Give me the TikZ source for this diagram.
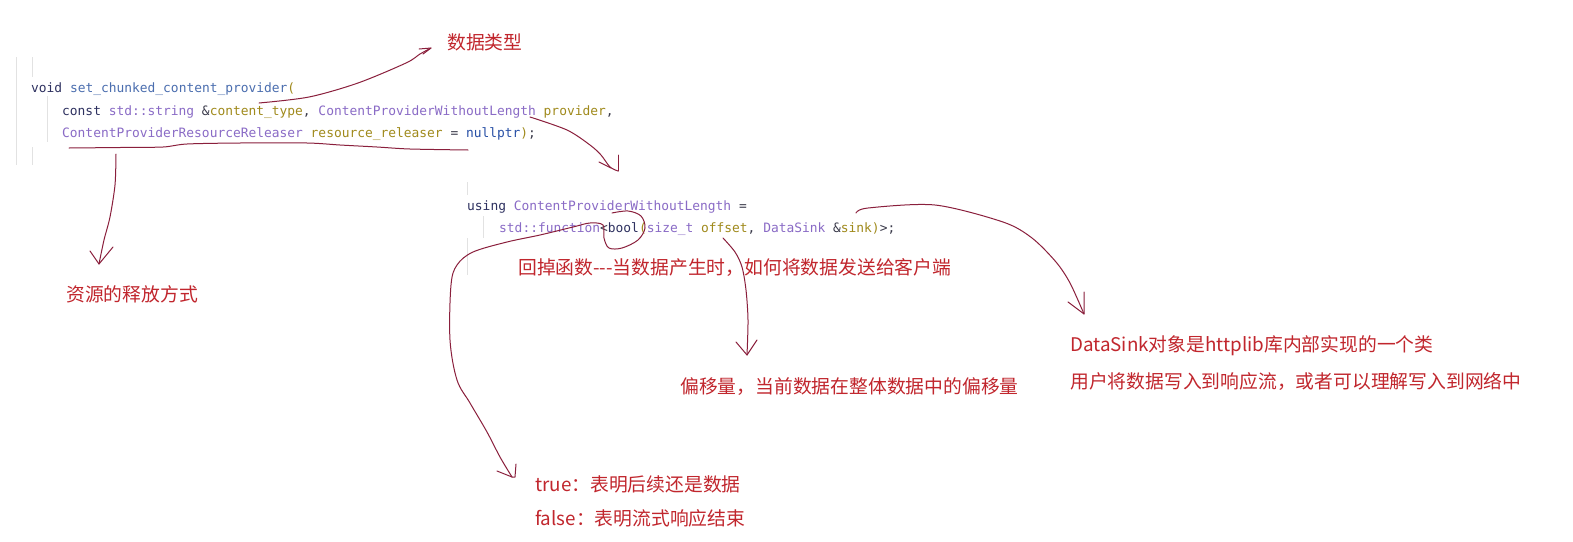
\documentclass[tikz,border=0pt]{standalone}
\usepackage{fontspec}
\setmainfont{Liberation Sans}
\newfontfamily\cjk{Noto Sans CJK SC}
\newfontfamily\codefont{DejaVu Sans Mono}
\definecolor{kw}{HTML}{2E3160}
\definecolor{fn}{HTML}{4B6EAF}
\definecolor{cls}{HTML}{8A6BC6}
\definecolor{par}{HTML}{A08A1C}
\definecolor{nul}{HTML}{2850A6}
\definecolor{pun}{HTML}{3A3A4A}
\definecolor{lbl}{HTML}{C1262D}
\definecolor{ink}{HTML}{8A1F3C}
\definecolor{guide}{HTML}{E2E2E2}
\newcommand\ckw[1]{\textcolor{kw}{#1}}
\newcommand\cfn[1]{\textcolor{fn}{#1}}
\newcommand\ccls[1]{\textcolor{cls}{#1}}
\newcommand\cpar[1]{\textcolor{par}{#1}}
\newcommand\cnul[1]{\textcolor{nul}{#1}}
\begin{document}
\begin{tikzpicture}[x=1pt,y=-1pt,
  codetext/.style={font=\codefont\fontsize{12.9}{14}\selectfont, inner sep=0pt, anchor=base west, text=pun},
  note/.style={font=\cjk\fontsize{18.8}{22}\selectfont, inner sep=0pt, anchor=west, text=lbl},
  hand/.style={draw=ink, line width=1pt, line cap=round, line join=round},
  guideline/.style={draw=guide, line width=1pt}]
\path[use as bounding box, fill=white] (0,0) rectangle (1573,541);

% indentation guides
\draw[guideline] (16,57) -- (16,165);
\draw[guideline] (32,57) -- (32,77);
\draw[guideline] (32,147) -- (32,165);
\draw[guideline] (47,96) -- (47,142);
\draw[guideline] (467,182) -- (467,195);
\draw[guideline] (467,238) -- (467,275);
\draw[guideline] (483,216) -- (483,238);

% code
\node[codetext] (l1) at (31,92.7) {\ckw{void} \cfn{set\_chunked\_content\_provider}\cpar{(}};
\node[codetext] (l2) at (62,115) {\ckw{const} \ccls{std::string} \&\cpar{content\_type}, \ccls{ContentProviderWithoutLength} \cpar{provider},};
\node[codetext] (l3) at (62,137.3) {\ccls{ContentProviderResourceReleaser} \cpar{resource\_releaser} = \cnul{nullptr}\cpar{)};};
\node[codetext] (l4) at (467,210) {\ckw{using} \ccls{ContentProviderWithoutLength} =};
\node[codetext] (l5) at (499,232.3) {\ccls{std::function}<\ckw{bool}\cpar{(}\ccls{size\_t} \cpar{offset}, \ccls{DataSink} \&\cpar{sink}\cpar{)}>;};

% labels
\node[note] (type) at (447,42) {数据类型};
\node[note] (release) at (66,294) {资源的释放方式};
\node[note] (callback) at (518,268) {回掉函数---当数据产生时，如何将数据发送给客户端};
\node[note] (offset) at (680,387) {偏移量，当前数据在整体数据中的偏移量};
\node[note] (sink1) at (1070,346) {DataSink对象是httplib库内部实现的一个类};
\node[note] (sink2) at (1070,381) {用户将数据写入到响应流，或者可以理解写入到网络中};
\node[note] (true) at (535,484) {true：表明后续还是数据};
\node[note] (false) at (535,518) {false：表明流式响应结束};

% hand-drawn strokes
\coordinate (tA) at (431,48);
\draw[hand] plot[smooth, tension=0.5] coordinates {(259,103) (309,97) (358,83) (406,63) (420,54) (tA)};
\draw[hand] (419,49) -- (tA) -- (423,54);

\draw[hand] plot[smooth, tension=0.5] coordinates {(69,148) (120,147.5) (163,147) (187,144) (240,143) (307,143) (340,145) (377,147) (410,149) (468,150)};
\coordinate (tC) at (99,264);
\draw[hand] plot[smooth, tension=0.5] coordinates {(116,154) (115,185) (110,217) (104,240) (tC)};
\draw[hand] (90,251) -- (tC) -- (113,247);

\coordinate (tD) at (618,171);
\draw[hand] plot[smooth, tension=0.5] coordinates {(530,117) (567,130) (590,145) (601,155) (610,167) (tD)};
\draw[hand] (618,155) -- (tD);
\draw[hand] (599,162) -- (611,168);

\coordinate (tE) at (512,477);
\draw[hand] plot[smooth, tension=0.55] coordinates {(612,213) (628,211) (641,216) (645,228) (638,240) (622,248) (609,248) (604,238) (603,225) (590,223) (573,227) (540,235) (507,242) (473,252) (457,265) (451,285) (450,340) (457,380) (470,403) (487,432) (500,457) (tE)};
\draw[hand] (497,471) -- (tE);
\draw[hand] (516,464) -- (515,477) -- (tE);

\coordinate (tF) at (747,355);
\draw[hand] plot[smooth, tension=0.5] coordinates {(723,238) (735,252) (742,267) (746,290) (748,320) (tF)};
\draw[hand] (736,342) -- (tF) -- (757,340);

\coordinate (tG) at (1084,314);
\draw[hand] plot[smooth, tension=0.5] coordinates {(856,213) (868,208) (935,205) (1003,222) (1032,238) (1056,262) (1070,283) (tG)};
\draw[hand] (1068,302) -- (tG) -- (1084,292);
\end{tikzpicture}
\end{document}
